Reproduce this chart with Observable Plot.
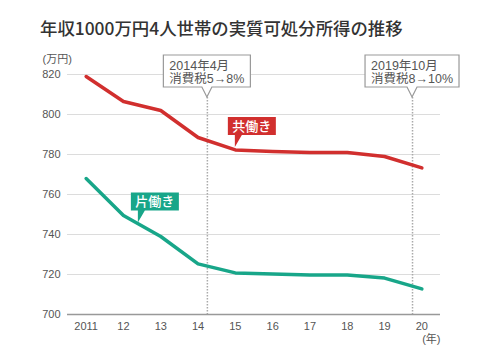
<!DOCTYPE html>
<html>
<head>
<meta charset="utf-8">
<script src="https://cdn.jsdelivr.net/npm/d3@7"></script>
<script src="https://cdn.jsdelivr.net/npm/@observablehq/plot@0.6"></script>
<style>
  html, body { margin: 0; padding: 0; background: #fff; }
  #wrap { width: 500px; height: 353px; position: relative; overflow: hidden; }
  #title { height: 40px; box-sizing: border-box; padding: 19px 0 0 40px; font-family: "Noto Sans CJK JP", sans-serif; font-weight: 500; font-size: 17.4px; line-height: 17px; color: #333; white-space: nowrap; }
</style>
</head>
<body>
<div id="wrap">
  <div id="title">年収1000万円4人世帯の実質可処分所得の推移</div>
  <div id="chart"></div>
</div>
<script>
// ---- data ----
const years = [2011, 2012, 2013, 2014, 2015, 2016, 2017, 2018, 2019, 2020];
const xTickLabels = ["2011", "12", "13", "14", "15", "16", "17", "18", "19", "20"];
const yTicks = [700, 720, 740, 760, 780, 800, 820];
const dualIncome = [819, 806.5, 802, 788.5, 782.3, 781.5, 781, 781, 779, 773.3];   // 共働き
const singleIncome = [768, 749.5, 739, 725.3, 720.8, 720.2, 719.7, 719.8, 718.2, 712.8]; // 片働き
const seriesNames = ["共働き", "片働き"];
const eventDates = [2014.25, 2019.75];
const eventLine1 = ["2014年4月", "2019年10月"];
const eventLine2 = ["消費税5→8%", "消費税8→10%"];
const labelYears = [2015, 2012.4];
const labelValues = [783.5, 745.7];
const yUnit = "(万円)";
const xUnit = "(年)";

// ---- tables built from the arrays ----
const rows = [];
years.forEach((y, i) => {
  rows.push({year: y, value: dualIncome[i], series: seriesNames[0]});
  rows.push({year: y, value: singleIncome[i], series: seriesNames[1]});
});
const events = eventDates.map((d, i) => ({date: d, lines: [eventLine1[i], eventLine2[i]]}));
const labels = seriesNames.map((n, i) => ({name: n, year: labelYears[i], value: labelValues[i]}));

const colors = {"共働き": "#d12f2e", "片働き": "#18a689"};
const FONT = "'Liberation Sans', 'Noto Sans CJK JP', sans-serif";

const measureCtx = document.createElement("canvas").getContext("2d");
function textWidth(s, font) { measureCtx.font = font; return measureCtx.measureText(s).width; }

// callout boxes for tax events
function eventCallouts(index, scales, values, dimensions) {
  const g = d3.create("svg:g");
  const fs = 12.5;
  const font = `${fs}px ${FONT}`;
  events.forEach(e => {
    const tx = scales.x(e.date);
    const ty = dimensions.marginTop + 23;
    const w = Math.max(...e.lines.map(s => textWidth(s, font))) + 12;
    const h = 32, m = 10;
    const bottom = ty - m;
    const path = `M${tx},${ty}l${m / 2},${-m}h${w / 2 - m / 2}v${-h}h${-w}v${h}h${w / 2 - m / 2}z`;
    g.append("path").attr("d", path).attr("fill", "#fff").attr("stroke", "#999").attr("stroke-width", 1.2);
    const left = tx - w / 2 + 6;
    e.lines.forEach((s, k) => {
      g.append("text").attr("x", left).attr("y", bottom - h + 15 + k * 13)
        .attr("text-anchor", "start")
        .attr("font-family", FONT).attr("font-size", fs).attr("fill", "#555").text(s);
    });
  });
  return g.node();
}

// colored series labels
function seriesLabels(index, scales, values, dimensions) {
  const g = d3.create("svg:g");
  labels.forEach(l => {
    const tx = scales.x(l.year), ty = scales.y(l.value);
    const w = 48, h = 18, left = tx - 7, bottom = ty - 12, top = bottom - h;
    const path = `M${left},${top}h${w}v${h}H${tx + 7}L${tx},${ty}V${bottom}H${left}z`;
    g.append("path").attr("d", path).attr("fill", colors[l.name]);
    g.append("text").attr("x", left + w / 2).attr("y", bottom - 4.5).attr("text-anchor", "middle")
      .attr("font-family", "'Noto Sans CJK JP', sans-serif").attr("font-size", 13).attr("font-weight", 500)
      .attr("fill", "#fff").text(l.name);
  });
  return g.node();
}

const chart = Plot.plot({
  width: 500,
  height: 313,
  marginTop: 34,
  marginBottom: 39,
  marginLeft: 67,
  marginRight: 60,
  style: {fontFamily: FONT, fontSize: "11px", color: "#555", background: "#fff", overflow: "visible"},
  x: {domain: [2010.5, 2020.5], ticks: years, tickFormat: d => xTickLabels[years.indexOf(d)], tickSize: 0, tickPadding: 8, label: null},
  y: {domain: [700, 820], ticks: yTicks, tickSize: 0, tickPadding: 7, label: null},
  color: {domain: seriesNames, range: seriesNames.map(n => colors[n])},
  marks: [
    Plot.ruleY(yTicks.filter(t => t !== 700), {stroke: "#dcdcdc", strokeWidth: 1.2}),
    Plot.ruleX(events, {x: "date", insetTop: 23, stroke: "#aaa", strokeWidth: 1.5, strokeDasharray: "1.5,1.5"}),
    Plot.ruleY([700], {stroke: "#999", strokeWidth: 1.5}),
    Plot.line(rows, {x: "year", y: "value", z: "series", stroke: "series", strokeWidth: 3.5, strokeLinejoin: "round", strokeLinecap: "round"}),
    eventCallouts,
    seriesLabels,
    Plot.text([yUnit], {text: d => d, frameAnchor: "top-left", dx: -25, dy: -19, textAnchor: "start", fontSize: 11, fill: "#555"}),
    Plot.text([xUnit], {text: d => d, frameAnchor: "bottom-right", dy: 28, textAnchor: "end", fontSize: 11, fill: "#555"})
  ]
});
document.getElementById("chart").appendChild(chart);
</script>
</body>
</html>
